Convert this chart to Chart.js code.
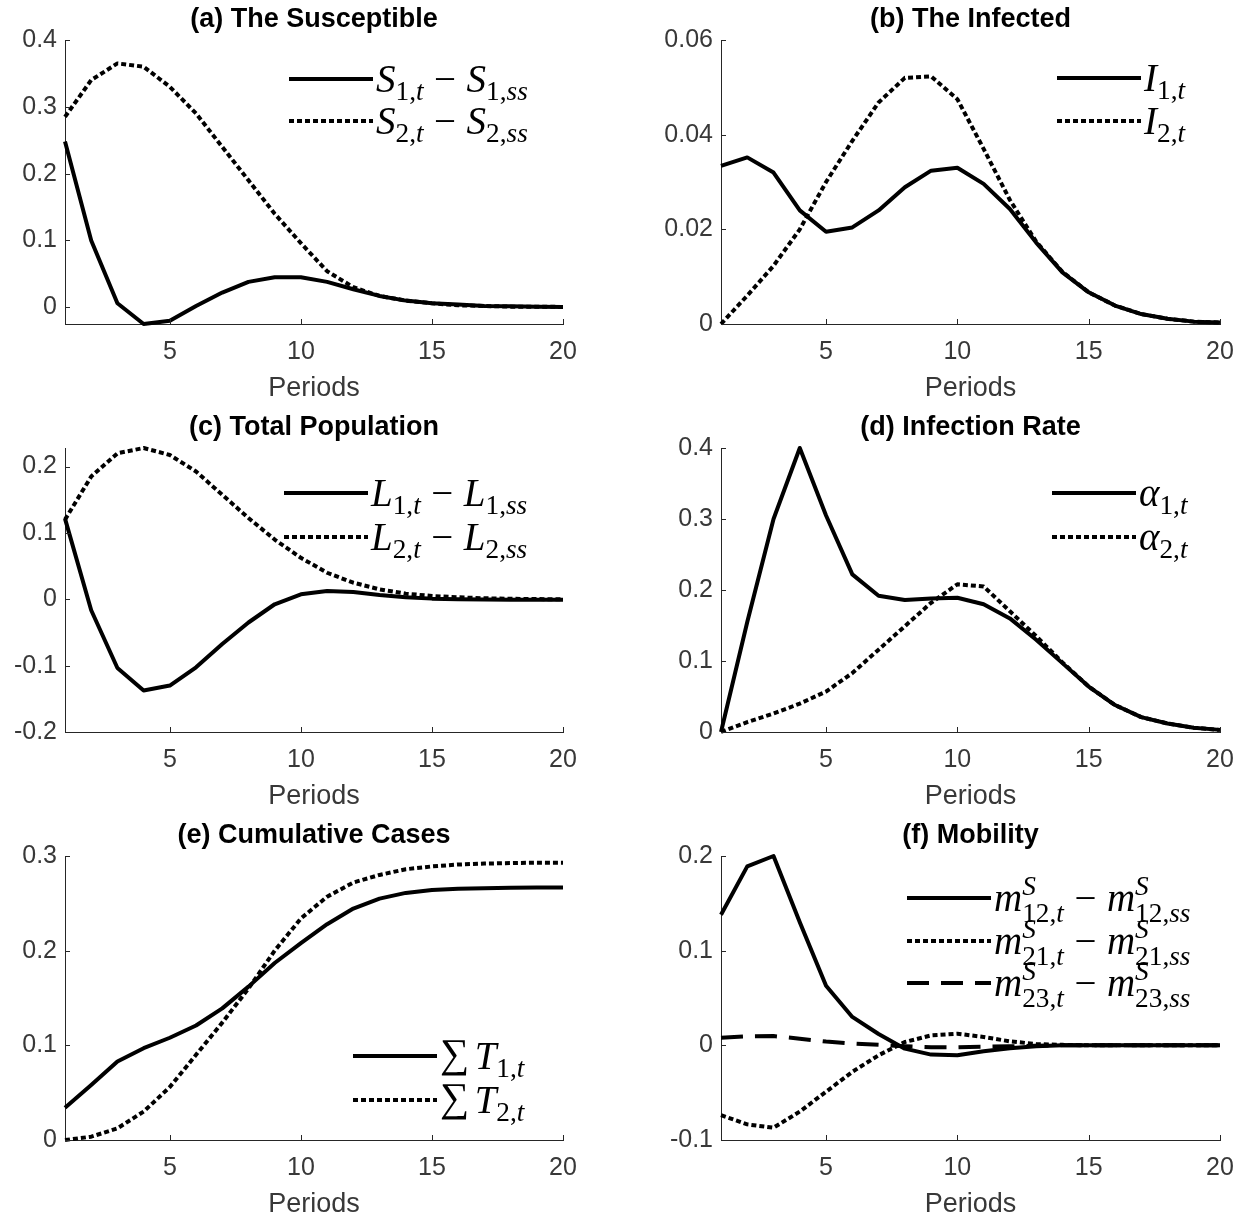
<!DOCTYPE html>
<html>
<head>
<meta charset="utf-8">
<script src="https://cdn.jsdelivr.net/npm/chart.js@4.4.1/dist/chart.umd.min.js"></script>
<style>
  html, body { margin: 0; padding: 0; background: #ffffff; width: 1250px; height: 1220px; overflow: hidden; }
  .panel { position: absolute; width: 625px; height: 408px; }
</style>
</head>
<body>
<div class="panel" style="left:0px;top:0px"><canvas id="pa" width="625" height="408"></canvas></div>
<div class="panel" style="left:625px;top:0px"><canvas id="pb" width="625" height="408"></canvas></div>
<div class="panel" style="left:0px;top:408px"><canvas id="pc" width="625" height="408"></canvas></div>
<div class="panel" style="left:625px;top:408px"><canvas id="pd" width="625" height="408"></canvas></div>
<div class="panel" style="left:0px;top:816px"><canvas id="pe" width="625" height="408"></canvas></div>
<div class="panel" style="left:625px;top:816px"><canvas id="pf" width="625" height="408"></canvas></div>
<script>
// ---------------- DATA ----------------
const PERIODS = [1, 2, 3, 4, 5, 6, 7, 8, 9, 10, 11, 12, 13, 14, 15, 16, 17, 18, 19, 20];
const X_TICKS = [5, 10, 15, 20];
const X_LABEL = 'Periods';

// (a) The Susceptible
const S1 = [0.248, 0.100, 0.006, -0.025, -0.020, 0.002, 0.022, 0.038, 0.045, 0.045, 0.038, 0.027, 0.017, 0.010, 0.006, 0.004, 0.002, 0.0015, 0.001, 0.0005];
const S2 = [0.285, 0.340, 0.365, 0.360, 0.330, 0.290, 0.240, 0.190, 0.140, 0.096, 0.054, 0.030, 0.017, 0.010, 0.006, 0.003, 0.002, 0.001, 0.001, 0.0005];
const Y_TICKS_A = [0, 0.1, 0.2, 0.3, 0.4];

// (b) The Infected
const I1 = [0.0334, 0.0352, 0.0320, 0.0240, 0.0195, 0.0204, 0.0240, 0.0289, 0.0324, 0.0330, 0.0296, 0.0243, 0.0172, 0.0109, 0.0067, 0.0039, 0.0021, 0.0011, 0.0005, 0.0003];
const I2 = [0.0000, 0.0060, 0.0123, 0.0200, 0.0300, 0.0387, 0.0468, 0.0520, 0.0523, 0.0475, 0.0370, 0.0262, 0.0174, 0.0110, 0.0067, 0.0039, 0.0021, 0.0011, 0.0005, 0.0003];
const Y_TICKS_B = [0, 0.02, 0.04, 0.06];

// (c) Total Population
const L1 = [0.1215, -0.0165, -0.1035, -0.1375, -0.1300, -0.1025, -0.0675, -0.0350, -0.0075, 0.0075, 0.0125, 0.0110, 0.0065, 0.0030, 0.0010, 0.0000, -0.0005, -0.0007, -0.0007, -0.0006];
const L2 = [0.1200, 0.1850, 0.2200, 0.2280, 0.2175, 0.1925, 0.1575, 0.1225, 0.0900, 0.0625, 0.0400, 0.0250, 0.0150, 0.0085, 0.0050, 0.0030, 0.0015, 0.0008, 0.0003, 0.0000];
const Y_TICKS_C = [-0.2, -0.1, 0, 0.1, 0.2];

// (d) Infection Rate
const A1 = [0.000, 0.155, 0.300, 0.400, 0.305, 0.222, 0.192, 0.186, 0.188, 0.189, 0.180, 0.160, 0.130, 0.097, 0.064, 0.038, 0.021, 0.012, 0.006, 0.003];
const A2 = [0.000, 0.014, 0.026, 0.040, 0.057, 0.083, 0.116, 0.149, 0.182, 0.208, 0.205, 0.170, 0.135, 0.098, 0.064, 0.038, 0.021, 0.012, 0.006, 0.003];
const Y_TICKS_D = [0, 0.1, 0.2, 0.3, 0.4];

// (e) Cumulative Cases
const T1 = [0.034, 0.058, 0.083, 0.097, 0.108, 0.121, 0.139, 0.162, 0.187, 0.208, 0.228, 0.2445, 0.255, 0.261, 0.264, 0.2655, 0.266, 0.2665, 0.2667, 0.2668];
const T2 = [0.000, 0.0035, 0.0123, 0.030, 0.056, 0.090, 0.124, 0.160, 0.200, 0.234, 0.257, 0.272, 0.280, 0.286, 0.289, 0.291, 0.292, 0.2925, 0.293, 0.293];
const Y_TICKS_E = [0, 0.1, 0.2, 0.3];

// (f) Mobility
const M12 = [0.138, 0.189, 0.200, 0.130, 0.063, 0.030, 0.012, -0.0035, -0.0098, -0.0105, -0.0063, -0.003, -0.001, 0, 0, 0, 0, 0, 0, 0];
const M21 = [-0.0737, -0.0835, -0.087, -0.070, -0.049, -0.028, -0.0105, 0.0035, 0.0105, 0.0123, 0.0088, 0.0042, 0.0014, 0.0005, 0, 0, 0, 0, 0, 0];
const M23 = [0.008, 0.0095, 0.0098, 0.007, 0.004, 0.002, 0.0005, -0.001, -0.002, -0.002, -0.0015, -0.001, -0.0005, 0, 0, 0, 0, 0, 0, 0];
const Y_TICKS_F = [-0.1, 0, 0.1, 0.2];

// ---------------- STYLE ----------------
const SOLID = [];
const DOTTED = [5, 3];
const DASHED = [22, 12];
const SANS = "'Liberation Sans', Arial, Helvetica, sans-serif";
const SERIF = "'Liberation Serif', 'Times New Roman', serif";
const AXIS_COLOR = '#262626';
const TEXT_COLOR = '#383838';

// draw a small LaTeX-like math string on the canvas
function drawMath(ctx, tokens, x, yMid, size) {
  const base = yMid + 0.34 * size;
  const ss = 0.7 * size;
  const setF = (it, s) => { ctx.font = (it ? 'italic ' : '') + s + 'px ' + SERIF; };
  const script = (str, x0, y0) => {
    let xx = x0;
    for (const ch of str) {
      setF(/[A-Za-z]/.test(ch), ss);
      ctx.fillText(ch, xx, y0);
      xx += ctx.measureText(ch).width;
    }
    return xx - x0;
  };
  for (const t of tokens) {
    if (t.v !== undefined) {
      setF(true, size); ctx.fillText(t.v, x, base); x += ctx.measureText(t.v).width;
    } else if (t.n !== undefined) {
      const s = size * (t.scale || 1);
      setF(false, s); ctx.fillText(t.n, x, base + (t.dy || 0) * size); x += ctx.measureText(t.n).width;
    } else if (t.op !== undefined) {
      x += 0.27 * size; setF(false, size); ctx.fillText(t.op, x, base); x += ctx.measureText(t.op).width + 0.27 * size;
    } else if (t.sp !== undefined) {
      x += t.sp * size;
    } else {
      let w = 0;
      if (t.sup) w = Math.max(w, script(t.sup, x, base - 0.42 * size));
      if (t.sub) w = Math.max(w, script(t.sub, x, base + (t.sup ? 0.27 : 0.2) * size));
      x += w;
    }
  }
  return x;
}

function makeLegendPlugin(spec) {
  return {
    id: 'mathLegend',
    afterDraw(chart) {
      const ctx = chart.ctx;
      ctx.save();
      spec.rows.forEach((tokens, i) => {
        const y = spec.ys[i];
        const ds = chart.data.datasets[i];
        ctx.beginPath();
        ctx.setLineDash(ds.borderDash || []);
        ctx.lineWidth = 4; ctx.strokeStyle = '#000'; ctx.lineCap = 'butt';
        ctx.moveTo(spec.x, y); ctx.lineTo(spec.x + 84, y); ctx.stroke();
        ctx.setLineDash([]);
        ctx.fillStyle = '#000'; ctx.textAlign = 'left'; ctx.textBaseline = 'alphabetic';
        drawMath(ctx, tokens, spec.x + 87, y, spec.size || 39);
      });
      ctx.restore();
    }
  };
}

const inwardTicks = {
  id: 'inwardTicks',
  afterDatasetsDraw(chart) {
    const {ctx, chartArea: a, scales: {x, y}} = chart;
    ctx.save();
    ctx.strokeStyle = AXIS_COLOR; ctx.lineWidth = 1; ctx.setLineDash([]);
    ctx.beginPath();
    x.ticks.forEach(t => { const px = Math.round(x.getPixelForValue(t.value)) + 0.5; ctx.moveTo(px, a.bottom); ctx.lineTo(px, a.bottom - 5); });
    y.ticks.forEach(t => { const py = Math.round(y.getPixelForValue(t.value)) + 0.5; ctx.moveTo(a.left, py); ctx.lineTo(a.left + 5, py); });
    ctx.stroke();
    ctx.restore();
  }
};

function panel(id, spec) {
  const W = 625, H = 408, TOP = 40, BOT = 324;
  const L = spec.col === 0 ? 65 : 96;
  const R = spec.col === 0 ? 563 : 595;
  const datasets = spec.series.map(s => ({
    data: PERIODS.map((p, i) => ({x: p, y: s.values[i]})),
    borderColor: '#000', backgroundColor: '#000', borderWidth: 4, borderDash: s.dash,
    borderCapStyle: 'butt', borderJoinStyle: 'round', pointRadius: 0, pointHoverRadius: 0,
    tension: 0, fill: false, clip: false
  }));
  return new Chart(document.getElementById(id), {
    type: 'line',
    data: {datasets},
    plugins: [inwardTicks, makeLegendPlugin(spec.legend)],
    options: {
      responsive: false, animation: false, devicePixelRatio: 1,
      layout: {padding: 0},
      plugins: {
        legend: {display: false}, tooltip: {enabled: false},
        title: {display: true, text: spec.title, fullSize: false, color: '#000',
                font: {family: SANS, size: 27, weight: 'bold', lineHeight: 1.2},
                padding: {top: 3, bottom: TOP - 3 - 27 * 1.2}}
      },
      scales: {
        x: {
          type: 'linear', min: 1, max: 20,
          afterBuildTicks: s => { s.ticks = X_TICKS.map(v => ({value: v})); },
          afterFit: s => { s.height = H - BOT; s.paddingLeft = 0; s.paddingRight = W - R; },
          grid: {drawOnChartArea: false, drawTicks: false},
          border: {display: true, color: AXIS_COLOR, width: 1},
          ticks: {color: TEXT_COLOR, font: {family: SANS, size: 25}, padding: 13, maxRotation: 0, autoSkip: false},
          title: {display: true, text: X_LABEL, color: TEXT_COLOR, font: {family: SANS, size: 27, lineHeight: 1.2}, padding: {top: 0, bottom: 3}}
        },
        y: {
          type: 'linear', min: spec.ymin, max: spec.ymax,
          afterBuildTicks: s => { s.ticks = spec.yticks.map(v => ({value: v})); },
          afterFit: s => { s.width = L; s.paddingTop = 0; s.paddingBottom = 0; },
          grid: {drawOnChartArea: false, drawTicks: false},
          border: {display: true, color: AXIS_COLOR, width: 1},
          ticks: {color: TEXT_COLOR, font: {family: SANS, size: 25}, padding: 8, autoSkip: false,
                  callback: v => String(+Number(v).toFixed(3))}
        }
      }
    }
  });
}

panel('pa', {
  col: 0, title: '(a) The Susceptible', ymin: -0.025, ymax: 0.4, yticks: Y_TICKS_A,
  series: [{values: S1, dash: SOLID}, {values: S2, dash: DOTTED}],
  legend: {x: 289, ys: [79, 121], rows: [
    [{v: 'S'}, {sub: '1,t'}, {op: '−'}, {v: 'S'}, {sub: '1,ss'}],
    [{v: 'S'}, {sub: '2,t'}, {op: '−'}, {v: 'S'}, {sub: '2,ss'}]
  ]}
});
panel('pb', {
  col: 1, title: '(b) The Infected', ymin: 0, ymax: 0.06, yticks: Y_TICKS_B,
  series: [{values: I1, dash: SOLID}, {values: I2, dash: DOTTED}],
  legend: {x: 432, ys: [78, 121], rows: [
    [{v: 'I'}, {sub: '1,t'}],
    [{v: 'I'}, {sub: '2,t'}]
  ]}
});
panel('pc', {
  col: 0, title: '(c) Total Population', ymin: -0.2, ymax: 0.228, yticks: Y_TICKS_C,
  series: [{values: L1, dash: SOLID}, {values: L2, dash: DOTTED}],
  legend: {x: 284, ys: [85, 129], rows: [
    [{v: 'L'}, {sub: '1,t'}, {op: '−'}, {v: 'L'}, {sub: '1,ss'}],
    [{v: 'L'}, {sub: '2,t'}, {op: '−'}, {v: 'L'}, {sub: '2,ss'}]
  ]}
});
panel('pd', {
  col: 1, title: '(d) Infection Rate', ymin: 0, ymax: 0.4, yticks: Y_TICKS_D,
  series: [{values: A1, dash: SOLID}, {values: A2, dash: DOTTED}],
  legend: {x: 427, ys: [85, 129], rows: [
    [{v: 'α'}, {sub: '1,t'}],
    [{v: 'α'}, {sub: '2,t'}]
  ]}
});
panel('pe', {
  col: 0, title: '(e) Cumulative Cases', ymin: 0, ymax: 0.3, yticks: Y_TICKS_E,
  series: [{values: T1, dash: SOLID}, {values: T2, dash: DOTTED}],
  legend: {x: 353, ys: [240, 284], rows: [
    [{n: '∑', scale: 1.05, dy: -0.06}, {sp: 0.14}, {v: 'T'}, {sub: '1,t'}],
    [{n: '∑', scale: 1.05, dy: -0.06}, {sp: 0.14}, {v: 'T'}, {sub: '2,t'}]
  ]}
});
panel('pf', {
  col: 1, title: '(f) Mobility', ymin: -0.1, ymax: 0.2, yticks: Y_TICKS_F,
  series: [{values: M12, dash: SOLID}, {values: M21, dash: DOTTED}, {values: M23, dash: DASHED}],
  legend: {x: 282, ys: [82, 125, 167], rows: [
    [{v: 'm'}, {sup: 'S', sub: '12,t'}, {op: '−'}, {v: 'm'}, {sup: 'S', sub: '12,ss'}],
    [{v: 'm'}, {sup: 'S', sub: '21,t'}, {op: '−'}, {v: 'm'}, {sup: 'S', sub: '21,ss'}],
    [{v: 'm'}, {sup: 'S', sub: '23,t'}, {op: '−'}, {v: 'm'}, {sup: 'S', sub: '23,ss'}]
  ]}
});
</script>
</body>
</html>
